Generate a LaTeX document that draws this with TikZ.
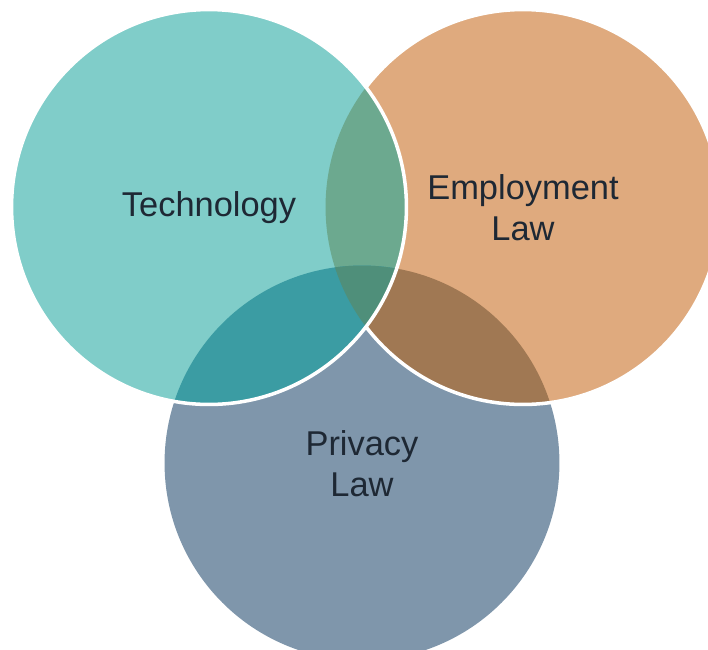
\documentclass[tikz,border=0pt]{standalone}
\usepackage{fontspec}
\setmainfont{Liberation Sans}
\definecolor{techfill}{RGB}{128,205,201}
\definecolor{empfill}{RGB}{223,170,126}
\definecolor{privfill}{RGB}{127,150,171}
\definecolor{tefill}{RGB}{108,169,143}
\definecolor{tpfill}{RGB}{59,156,163}
\definecolor{epfill}{RGB}{160,120,83}
\definecolor{tepfill}{RGB}{79,143,122}
\definecolor{labeltext}{RGB}{30,40,52}
\begin{document}
\begin{tikzpicture}[x=0.02cm,y=-0.02cm,
    venn label/.style={align=center,text=labeltext,font=\fontsize{19.6}{23.5}\selectfont},
    rim/.style={white,line width=2pt}]
    \useasboundingbox (0,0) rectangle (708,650);
    \clip (0,0) rectangle (708,650);
    \def\rad{3.95cm}
    \coordinate (tech) at (209,207);
    \coordinate (emp) at (523,207);
    \coordinate (priv) at (362,463);
    % bottom two sets
    \fill[privfill] (priv) circle[radius=\rad];
    \fill[empfill] (emp) circle[radius=\rad];
    \begin{scope}
        \clip (emp) circle[radius=\rad];
        \fill[epfill] (priv) circle[radius=\rad];
    \end{scope}
    \draw[rim] (emp) circle[radius=\rad];
    % top set and its overlaps
    \fill[techfill] (tech) circle[radius=\rad];
    \begin{scope}
        \clip (tech) circle[radius=\rad];
        \fill[tefill] (emp) circle[radius=\rad];
        \fill[tpfill] (priv) circle[radius=\rad];
        \clip (emp) circle[radius=\rad];
        \fill[tepfill] (priv) circle[radius=\rad];
    \end{scope}
    \draw[rim] (tech) circle[radius=\rad];
    % labels
    \node[venn label] (techlabel) at (209,208) {Technology};
    \node[venn label] (emplabel) at (523,208) {Employment\\Law};
    \node[venn label] (privlabel) at (362,464) {Privacy\\Law};
\end{tikzpicture}
\end{document}
